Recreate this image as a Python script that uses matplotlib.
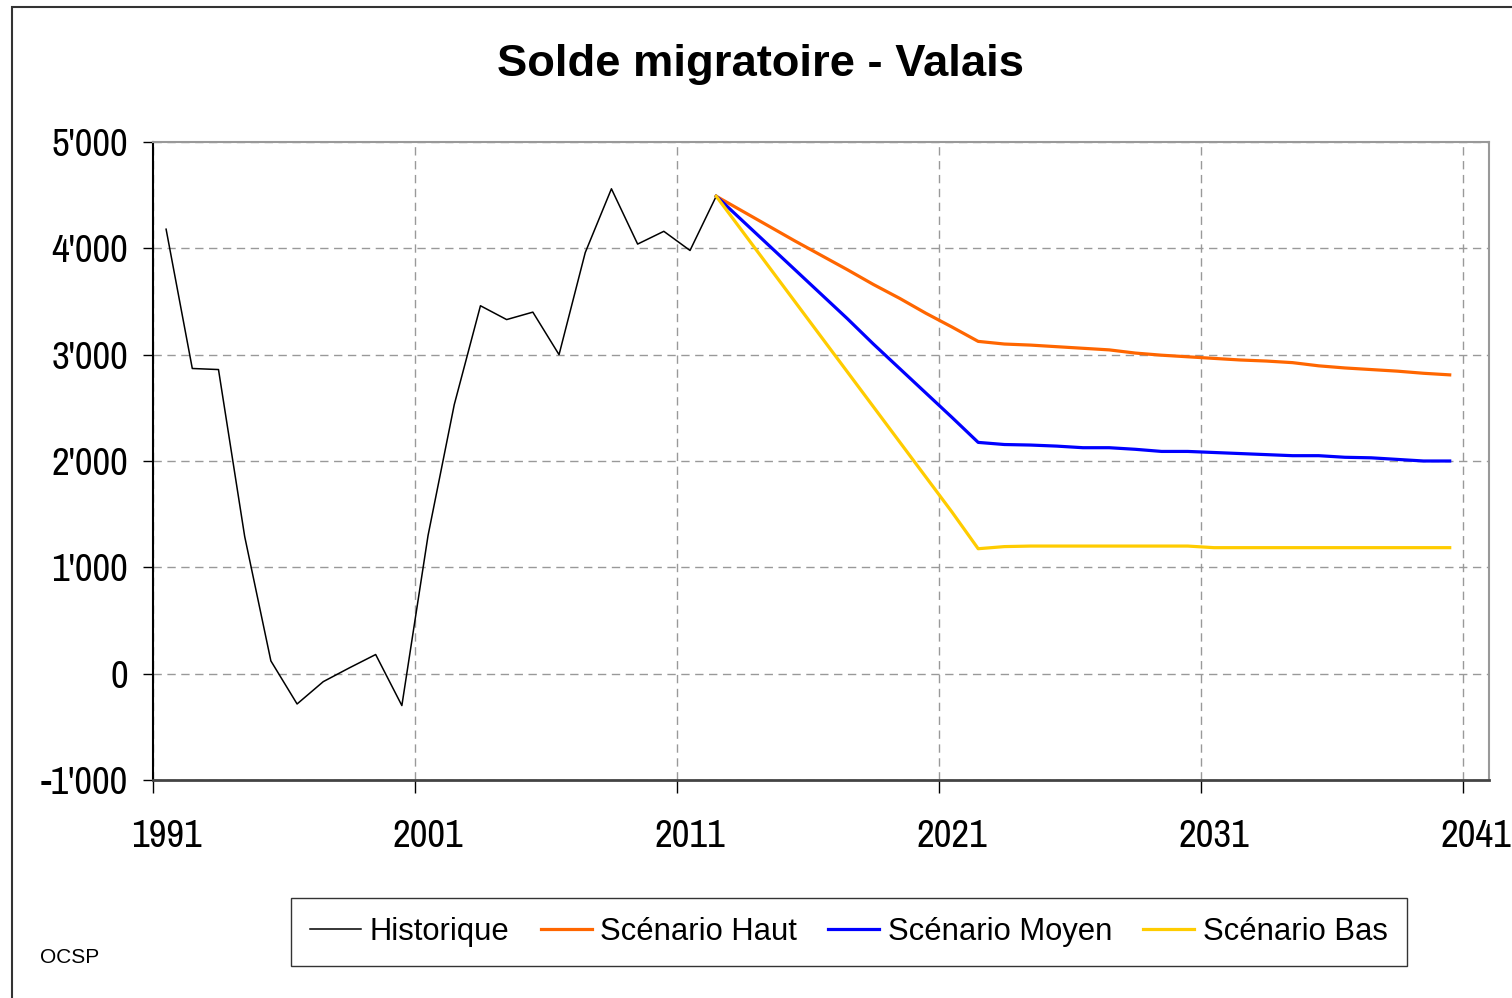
import matplotlib
matplotlib.use("Agg")
import matplotlib.pyplot as plt
from matplotlib.patches import Rectangle
from matplotlib.ticker import FixedLocator, FuncFormatter

# historical migration balance, Valais
years_hist = list(range(1991, 2013))
historique = [4180, 2870, 2860, 1290, 120, -285, -75, 55, 180, -300,
              1300, 2530, 3460, 3330, 3400, 3000, 3960, 4560, 4040, 4160,
              3980, 4490]

# scenarios 2012 - 2040
years_scen = list(range(2012, 2041))
haut = [4490, 4350, 4210, 4070, 3935, 3800, 3660, 3530, 3390, 3260,
        3125, 3100, 3090, 3075, 3060, 3045, 3015, 2995, 2980, 2965,
        2950, 2940, 2925, 2895, 2875, 2860, 2845, 2825, 2810]
moyen = [4490, 4260, 4030, 3800, 3570, 3340, 3100, 2870, 2640, 2410,
         2175, 2155, 2150, 2140, 2125, 2125, 2110, 2090, 2090, 2080,
         2070, 2060, 2050, 2050, 2035, 2030, 2015, 2000, 2000]
bas = [4490, 4160, 3830, 3500, 3170, 2840, 2510, 2180, 1850, 1520,
       1175, 1195, 1200, 1200, 1200, 1200, 1200, 1200, 1200, 1185,
       1185, 1185, 1185, 1185, 1185, 1185, 1185, 1185, 1185]

label_years = [1991, 2001, 2011, 2021, 2031, 2041]
y_ticks = [-1000, 0, 1000, 2000, 3000, 4000, 5000]

narrow = ["Archivo Narrow", "Roboto Condensed", "DejaVu Sans"]
arial = ["Arial", "Liberation Sans", "DejaVu Sans"]

fig = plt.figure(figsize=(15.12, 9.98), dpi=100)
ax = fig.add_axes([153 / 1512, 1 - 780 / 998, (1489 - 153) / 1512, (780 - 142) / 998])

ax.plot(years_hist, historique, color="black", lw=1.1, label="Historique")
ax.plot(years_scen, haut, color="#FF6600", lw=2.3, label="Scénario Haut")
ax.plot(years_scen, moyen, color="#0000FF", lw=2.3, label="Scénario Moyen")
ax.plot(years_scen, bas, color="#FFCC00", lw=2.3, label="Scénario Bas")

ax.set_xlim(1990.5, 2041.5)
ax.set_ylim(-1000, 5000)

# tick marks between years, labels on the year itself (Excel style)
ax.xaxis.set_major_locator(FixedLocator([y - 0.5 for y in label_years]))
ax.xaxis.set_major_formatter(FuncFormatter(lambda v, p: ""))
ax.xaxis.set_minor_locator(FixedLocator(label_years))
ax.xaxis.set_minor_formatter(FuncFormatter(lambda v, p: "%d" % round(v)))
ax.tick_params(axis="x", which="major", length=9, width=1, color="black", direction="out")
ax.tick_params(axis="x", which="minor", length=0, pad=28, labelsize=28)

ax.set_yticks(y_ticks)
ax.yaxis.set_major_formatter(FuncFormatter(lambda v, p: "{:,}".format(int(v)).replace(",", "'")))
ax.tick_params(axis="y", length=7, width=1, color="black", pad=11, labelsize=28)

for lab in ax.get_xticklabels(minor=True) + ax.get_yticklabels():
    lab.set_family(narrow)

ax.grid(True, which="major", color="#999999", ls=(0, (6, 4)), lw=1)
ax.set_axisbelow(True)

ax.spines["left"].set_color("black")
ax.spines["left"].set_linewidth(1.5)
ax.spines["bottom"].set_color("#444444")
ax.spines["bottom"].set_linewidth(2)
ax.spines["top"].set_color("#999999")
ax.spines["top"].set_linewidth(1.5)
ax.spines["right"].set_color("#999999")
ax.spines["right"].set_linewidth(1.5)

fig.text(0.503, 0.935, "Solde migratoire - Valais", ha="center", va="center",
         fontsize=32.7, fontweight="bold", family=arial)
fig.text(40 / 1512, 0.041, "OCSP", ha="left", va="center", fontsize=15, family=arial)

leg = fig.legend(loc="center", bbox_to_anchor=(849 / 1512, 1 - 932 / 998), ncol=4,
                 frameon=True, fancybox=False, edgecolor="black",
                 prop={"family": arial, "size": 22.3}, handlelength=1.65,
                 handletextpad=0.28, columnspacing=1.0, borderpad=0.62)
leg.get_frame().set_linewidth(1)

# outer chart border
fig.patches.append(Rectangle((12 / 1512, -0.05), 1.2, 1 - 7 / 998 + 0.05,
                             transform=fig.transFigure, fill=False,
                             edgecolor="#333333", lw=1.5))

fig.savefig("out.png", dpi=100)
